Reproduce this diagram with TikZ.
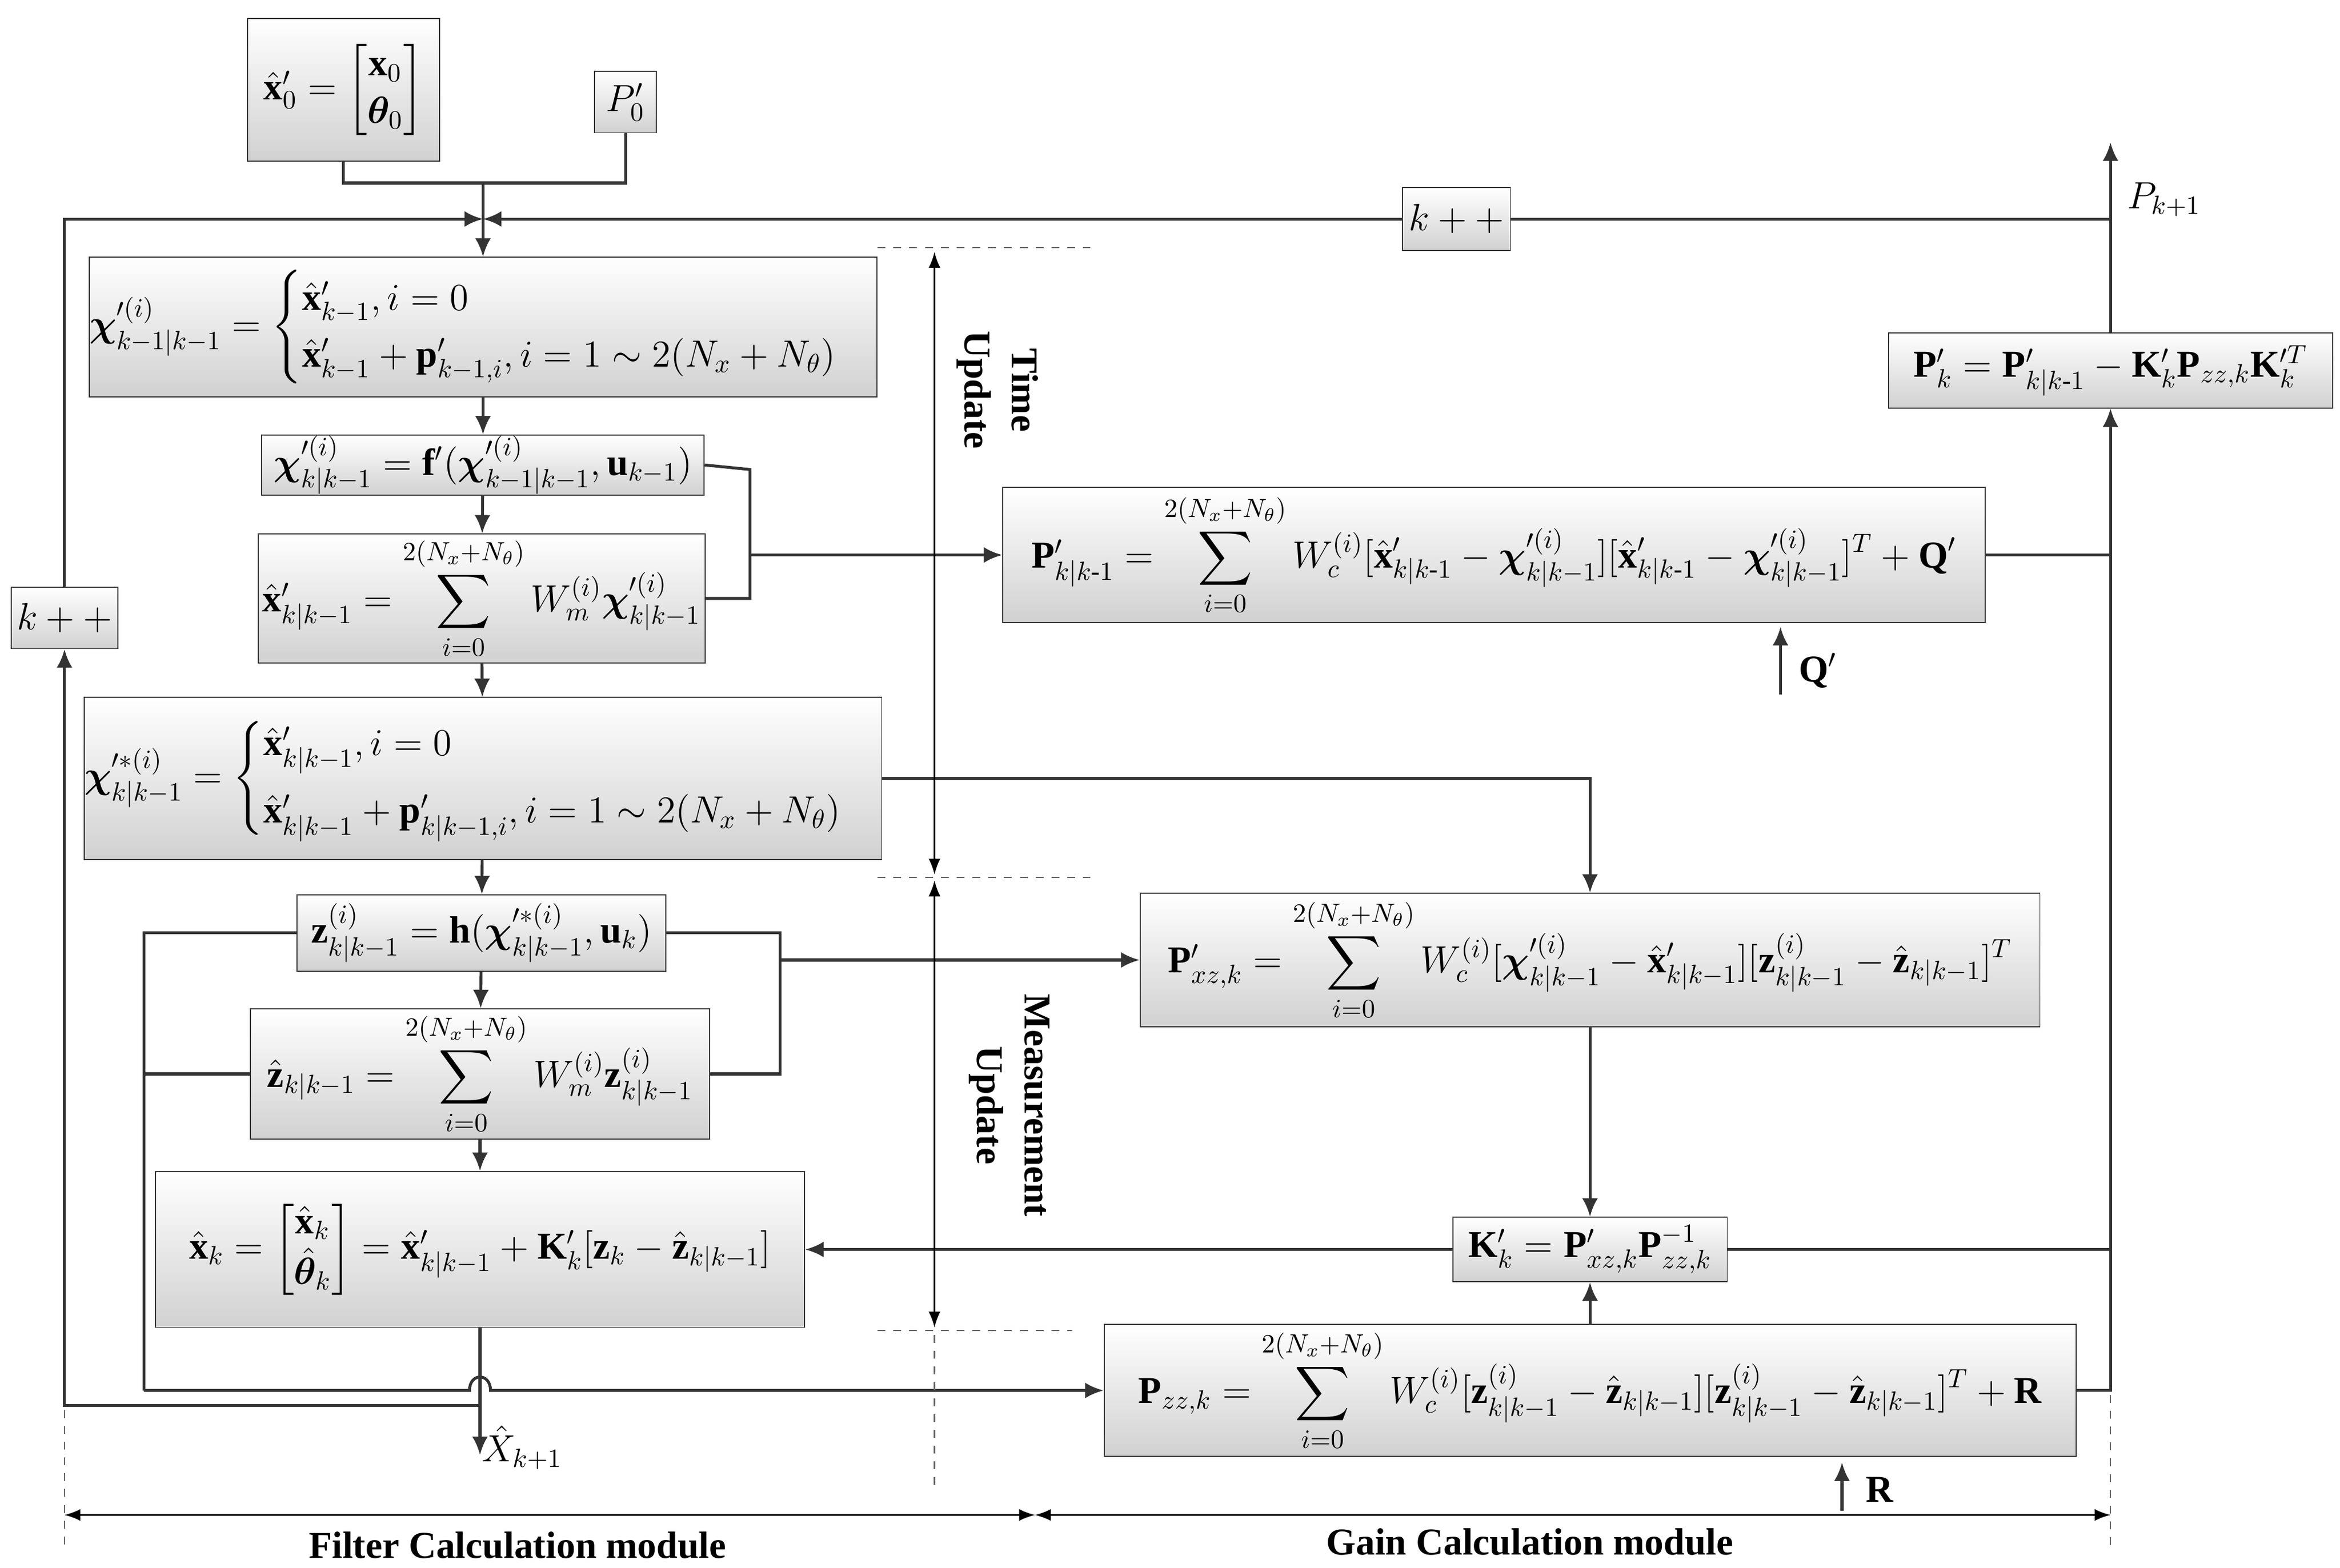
\documentclass[tikz,border=0pt]{standalone}
\usepackage{amsmath,bm}
\usepackage{fontspec}
\setmainfont{Liberation Serif}
\begin{document}
\begin{tikzpicture}[x=0.02cm,y=-0.02cm,
 bx/.style={draw=black!80,top color=white,bottom color=black!18,inner sep=0pt,align=center,font=\Large},
 ln/.style={line width=1.1pt,black!80},
 ar/.style={ln,-{Latex[length=7pt,width=6pt]}},
 dm/.style={line width=0.6pt,{Latex[length=6pt]}-{Latex[length=6pt]}},
 ds/.style={line width=0.5pt,dashed,black!60},
 lb/.style={font=\Large\bfseries}]
\usetikzlibrary{arrows.meta}
\useasboundingbox (0,0) rectangle (1560,1045);
\node[bx,minimum width=2.56cm,minimum height=1.9cm] (x0) at (229,60) {$\hat{\mathbf x}'_0=\begin{bmatrix}\mathbf x_0\\ \bm\theta_0\end{bmatrix}$};
\node[bx,minimum width=0.82cm,minimum height=0.82cm] (p0) at (417,68) {$P'_0$};
\node[bx,minimum width=1.44cm,minimum height=0.84cm] (kt) at (971,146) {$k++$};
\node[bx,minimum width=1.42cm,minimum height=0.82cm] (kl) at (43,412) {$k++$};
\node[bx,minimum width=10.36cm,minimum height=1.86cm] (c1) at (322,218) {$\bm\chi'^{(i)}_{k-1|k-1}=\begin{cases}\hat{\mathbf x}'_{k-1},i=0\\ \hat{\mathbf x}'_{k-1}+\mathbf p'_{k-1,i},i=1\sim2(N_x+N_\theta)\end{cases}$};
\node[bx,minimum width=5.9cm,minimum height=0.8cm] (c2) at (322,310) {$\bm\chi'^{(i)}_{k|k-1}=\mathbf f'(\bm\chi'^{(i)}_{k-1|k-1},\mathbf u_{k-1})$};
\node[bx,minimum width=5.96cm,minimum height=1.72cm] (xh) at (321,399) {$\hat{\mathbf x}'_{k|k-1}=\displaystyle\sum_{i=0}^{2(N_x+N_\theta)}W_m^{(i)}\bm\chi'^{(i)}_{k|k-1}$};
\node[bx,minimum width=10.48cm,minimum height=2.16cm] (cs) at (322,519) {$\bm\chi'^{*(i)}_{k|k-1}=\begin{cases}\hat{\mathbf x}'_{k|k-1},i=0\\[4pt] \hat{\mathbf x}'_{k|k-1}+\mathbf p'_{k|k-1,i},i=1\sim2(N_x+N_\theta)\end{cases}$};
\node[bx,minimum width=4.92cm,minimum height=1.02cm] (z) at (321,622) {$\mathbf z^{(i)}_{k|k-1}=\mathbf h(\bm\chi'^{*(i)}_{k|k-1},\mathbf u_k)$};
\node[bx,minimum width=6.12cm,minimum height=1.74cm] (zh) at (320,716) {$\hat{\mathbf z}_{k|k-1}=\displaystyle\sum_{i=0}^{2(N_x+N_\theta)}W_m^{(i)}\mathbf z^{(i)}_{k|k-1}$};
\node[bx,minimum width=8.66cm,minimum height=2.08cm] (xk) at (320,833) {$\hat{\mathbf x}_k=\begin{bmatrix}\hat{\mathbf x}_k\\ \hat{\bm\theta}_k\end{bmatrix}=\hat{\mathbf x}'_{k|k-1}+\mathbf K'_k[\mathbf z_k-\hat{\mathbf z}_{k|k-1}]$};
\node[bx,minimum width=13.1cm,minimum height=1.8cm] (pp) at (996,370) {$\mathbf P'_{k|k\text{-}1}=\displaystyle\sum_{i=0}^{2(N_x+N_\theta)}W_c^{(i)}[\hat{\mathbf x}'_{k|k\text{-}1}-\bm\chi'^{(i)}_{k|k-1}][\hat{\mathbf x}'_{k|k\text{-}1}-\bm\chi'^{(i)}_{k|k-1}]^T+\mathbf Q'$};
\node[bx,minimum width=12cm,minimum height=1.78cm] (pxz) at (1060,640) {$\mathbf P'_{xz,k}=\displaystyle\sum_{i=0}^{2(N_x+N_\theta)}W_c^{(i)}[\bm\chi'^{(i)}_{k|k-1}-\hat{\mathbf x}'_{k|k-1}][\mathbf z^{(i)}_{k|k-1}-\hat{\mathbf z}_{k|k-1}]^T$};
\node[bx,minimum width=3.66cm,minimum height=0.86cm] (K) at (1060,833) {$\mathbf K'_k=\mathbf P'_{xz,k}\mathbf P^{-1}_{zz,k}$};
\node[bx,minimum width=12.96cm,minimum height=1.76cm] (pzz) at (1060,927) {$\mathbf P_{zz,k}=\displaystyle\sum_{i=0}^{2(N_x+N_\theta)}W_c^{(i)}[\mathbf z^{(i)}_{k|k-1}-\hat{\mathbf z}_{k|k-1}][\mathbf z^{(i)}_{k|k-1}-\hat{\mathbf z}_{k|k-1}]^T+\mathbf R$};
\node[bx,minimum width=5.92cm,minimum height=1.0cm] (pk) at (1407,247) {$\mathbf P'_k=\mathbf P'_{k|k\text{-}1}-\mathbf K'_k\mathbf P_{zz,k}\mathbf K'^T_k$};
% top inputs
\coordinate (j0) at (322,122);
\draw[ln] (x0.south) |- (j0);
\draw[ln] (p0.south) |- (j0);
\draw[ar] (j0) -- (c1.north);
\coordinate (j1) at (322,146);
\coordinate (r1) at (1407,146);
\coordinate (top) at (1407,95);
\draw[ln] (r1) -- (kt.east);
\draw[ar] (kt.west) -- (j1);
\draw[ar] (kl.north) |- (j1);
% vertical chain
\draw[ar] (c1) -- (c2);
\draw[ar] (c2) -- (xh);
\draw[ar] (xh) -- (cs);
\draw[ar] (cs) -- (z);
\draw[ar] (z) -- (zh);
\draw[ar] (zh) -- (xk);
\coordinate (xo) at (320,970);
\draw[ar] (xk.south) -- (xo);
\node[font=\Large] (xl) at (348,965) {$\hat X_{k+1}$};
\coordinate (bl) at (43,937);
\coordinate (bj) at (320,937);
\draw[ar] (bj) -- (bl) -- (kl.south);
% time update bus
\coordinate (t1) at (500,313);
\coordinate (t2) at (500,399);
\coordinate (t3) at (500,370);
\draw[ln] (c2.east) -- (t1) -- (t2) -- (xh.east);
\draw[ar] (t3) -- (pp.west);
% measurement bus
\coordinate (m1) at (520,622);
\coordinate (m2) at (520,716);
\coordinate (m3) at (520,640);
\draw[ln] (z.east) -- (m1) -- (m2) -- (zh.east);
\draw[ar] (m3) -- (pxz.west);
\coordinate (l1) at (96,622);
\coordinate (l2) at (96,716);
\coordinate (l3) at (96,927);
\draw[ln] (z.west) -- (l1) -- (l3);
\draw[ln] (zh.west) -- (l2);
\draw[ar] (l3) -- (313,927) .. controls (313,915) and (327,915) .. (327,927) -- (pzz.west);
% gain side
\draw[ar] (cs.east) -| (pxz.north);
\draw[ar] (pxz) -- (K);
\draw[ar] (pzz) -- (K);
\draw[ar] (K.west) -- (xk.east);
\coordinate (g1) at (1407,833);
\coordinate (g2) at (1407,370);
\coordinate (g3) at (1407,927);
\draw[ln] (K.east) -- (g1);
\draw[ln] (pp.east) -- (g2);
\draw[ar] (pzz.east) -- (g3) -- (pk.south);
\draw[ar] (pk.north) -- (top);
\node[font=\Large,anchor=west] (pl) at (1412,133) {$P_{k+1}$};
\coordinate (q0) at (1187,463);
\draw[ar] (q0) -- (1187,418);
\node[font=\Large] (ql) at (1212,447) {$\mathbf Q'$};
\coordinate (r0) at (1228,1007);
\draw[ar] (r0) -- (1228,975);
\node[font=\Large] (rl) at (1253,993) {$\mathbf R$};
% update dimension marks
\draw[ds] (585,165) -- (727,165);
\draw[ds] (585,585) -- (727,585);
\draw[ds] (585,887) -- (715,887);
\draw[ds] (623,890) -- (623,995);
\draw[dm] (623,168) -- (623,583);
\draw[dm] (623,587) -- (623,885);
\node[lb,rotate=-90,align=center] (tu) at (665,260) {Time\\Update};
\node[lb,rotate=-90,align=center] (mu) at (673,737) {Measurement\\Update};
% bottom module marks
\draw[ds] (43,940) -- (43,1030);
\draw[ds] (1407,930) -- (1407,1030);
\draw[dm] (43,1010) -- (690,1010);
\draw[dm] (690,1010) -- (1407,1010);
\node[lb] (fc) at (345,1030) {Filter Calculation module};
\node[lb] (gc) at (1020,1028) {Gain Calculation module};
\end{tikzpicture}
\end{document}
